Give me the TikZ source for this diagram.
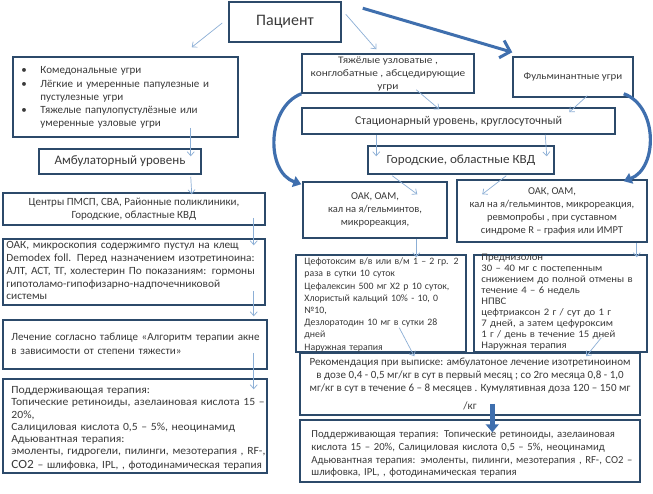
\documentclass[tikz,border=0pt]{standalone}
\usepackage{fontspec}
\setmainfont{Carlito}
\usetikzlibrary{arrows.meta,calc}
\definecolor{boxc}{HTML}{2C4A6A}
\definecolor{txtc}{HTML}{3A3A3A}
\definecolor{thinc}{HTML}{8CAFD6}
\definecolor{thickc}{HTML}{3F6FAE}
\newcommand{\fs}[2]{\fontsize{#1}{#2}\selectfont}
\newcommand{\fst}[3]{\fontsize{#1}{#2}\selectfont\addfontfeature{FakeStretch=#3}}
\begin{document}
\begin{tikzpicture}[x=1pt,y=-1pt,
  box/.style={draw=boxc,line width=1.5pt,fill=white,inner sep=0pt,text=txtc,align=center},
  txt/.style={inner sep=0pt,text=txtc,align=left,anchor=base west,text width=400pt},
  thin/.style={draw=thinc,line width=0.7pt,-{Straight Barb[length=4pt,width=7pt]}},
  curv/.style={draw=thickc,line width=3.2pt,-{Triangle[length=8pt,width=11pt]}},
  big/.style={draw=thickc,line width=3pt,-{Straight Barb[length=9pt,width=18pt,line width=3pt]}}]
\useasboundingbox (0,0) rectangle (653,493);
\fill[white] (0,0) rectangle (653,493);

% ---- boxes ----
\node[box,minimum width=112pt,minimum height=40pt,font=\fs{16}{18}] (pat) at (285,22) {Пациент};
\node[box,minimum width=225pt,minimum height=80pt] (list) at (125.5,97) {};
\node[box,minimum width=162pt,minimum height=25pt,font=\fs{13}{14}] (amb) at (120,161.5) {Амбулаторный уровень};
\node[box,minimum width=262pt,minimum height=32pt,font=\fs{11}{13}] (cent) at (134,209) {Центры ПМСП, СВА, Районные поликлиники,\\Городские,  областные КВД};
\node[box,minimum width=262pt,minimum height=66pt] (oaka) at (134,272) {};
\node[box,minimum width=264pt,minimum height=49pt] (lech) at (135,344.5) {};
\node[box,minimum width=264pt,minimum height=94pt] (suppa) at (135,426) {};

\node[box,minimum width=172pt,minimum height=39pt,font=\fst{10}{13}{1.13}] (heavy) at (388,73.5) {Тяжёлые узловатые ,\\конглобатные , абсцедирующие\\угри};
\node[box,minimum width=120pt,minimum height=40pt,font=\fst{10}{12}{1.09}] (fulm) at (573,77) {Фульминантные угри};
\node[box,minimum width=313pt,minimum height=26pt,font=\fs{12}{14}] (stat) at (458.5,121) {Стационарный уровень, круглосуточный};
\node[box,minimum width=186pt,minimum height=28pt,font=\fst{12.5}{13}{1.05}] (gor) at (461,160) {Городские, областные КВД};
\node[box,minimum width=144pt,minimum height=56pt,font=\fs{10.5}{13}] (oakb) at (375,210) {ОАК, ОАМ,\\кал на я/гельминтов,\\микрореакция,};
\node[box,minimum width=190pt,minimum height=62pt,font=\fs{10.5}{13}] (oakc) at (552,211) {ОАК, ОАМ,\\кал на я/гельминтов, микрореакция,\\ревмопробы , при суставном\\синдроме  R – графия или ИМРТ};
\node[box,minimum width=170pt,minimum height=97pt] (cef) at (381,303.5) {};
\node[box,minimum width=173pt,minimum height=97pt] (pred) at (560.5,303.5) {};
\node[box,minimum width=340pt,minimum height=62pt,font=\fs{11}{13}] (rec) at (470,384) {Рекомендация при выписке:  амбулатоное лечение изотретиноином\\в дозе  0,4  - 0,5  мг/кг в сут в первый месяц ; со 2го месяца 0,8 - 1,0\\мг/кг в сут в течение 6 – 8 месяцев . Кумулятивная доза 120 – 150 мг\\[5pt]/кг};
\node[box,minimum width=340pt,minimum height=62pt] (suppb) at (470,451) {};

% ---- texts of left-aligned boxes ----
\node[txt,font=\fs{11}{13.3}] (listt) at ($(list.north west)+(9,17.5)$)
 {\begin{tabular}[t]{@{}p{19pt}@{}l@{}}•&Комедональные угри\\•&Лёгкие и умеренные папулезные и\\&пустулезные угри\\•&Тяжелые папулопустулёзные  или\\&умеренные узловые угри\end{tabular}};
\node[txt,font=\fst{11}{12.75}{1.03}] (oakat) at ($(oaka.north west)+(4,10.5)$)
 {ОАК, микроскопия  содержимго пустул на клещ\\Demodex foll.  Перед назначением изотретиноина:\\АЛТ, АСТ, ТГ, холестерин  По показаниям: гормоны\\гипотоламо-гипофизарно-надпочечниковой\\системы};
\node[txt,font=\fs{11}{14}] (lecht) at ($(lech.north west)+(9,21.5)$)
 {Лечение согласно таблице  «Алгоритм терапии акне\\в зависимости от степени тяжести»};
\node[txt,font=\fst{11}{12.2}{1.06}] (suppat) at ($(suppa.north west)+(9,15.5)$)
 {Поддерживающая терапия:\\Топические ретиноиды, азелаиновая кислота 15 –\\20\%,\\Салициловая  кислота  0,5 – 5\%, неоцинамид\\Адьювантная терапия:\\эмоленты,  гидрогели, пилинги,  мезотерапия , RF-,\\[2pt]{\fontsize{12.5}{13}\selectfont CO2} – {\addfontfeature{FakeStretch=1.02}шлифовка, IPL, , фотодинамическая терапия}};
\node[txt,font=\fs{9.8}{12.2}] (ceft) at ($(cef.north west)+(9,10.5)$)
 {Цефотоксим в/в или в/м  1 – 2 гр. 2\\раза в сутки 10 суток\\Цефалексин 500 мг Х2 р 10 суток,\\Хлористый кальций 10\% - 10, 0\\№10,\\Дезлоратодин 10 мг  в сутки 28\\дней\\Наружная терапия};
\node[txt,font=\fst{10}{11}{1.07}] (predt) at ($(pred.north west)+(8,6.5)$)
 {Преднизолон\\30 – 40  мг  с постепенным\\снижением до полной  отмены  в\\течение 4 – 6 недель\\НПВС\\цефтриаксон 2 г / сут до 1 г\\7 дней, а затем цефуроксим\\1 г / день в течение 15 дней\\Наружная терапия};
\node[txt,font=\fs{10.7}{12.7}] (suppbt) at ($(suppb.north west)+(12,18.5)$)
 {Поддерживающая терапия: Топические ретиноиды, азелаиновая\\кислота 15 – 20\%,  Салициловая  кислота  0,5 – 5\%, неоцинамид\\Адьювантная терапия:   эмоленты,  пилинги, мезотерапия , RF-, CO2 –\\шлифовка, IPL, , фотодинамическая терапия};

% ---- connector end points ----
\coordinate (p1) at ($(pat.west)+(-6,1)$);      \coordinate (l1) at ($(list.north east)+(-47,-9)$);
\coordinate (l2) at ($(list.south east)+(-48,-10)$); \coordinate (m1) at ($(amb.north east)+(-11,8)$);
\coordinate (m2) at ($(amb.south east)+(-11,2)$);  \coordinate (c1) at ($(cent.north east)+(-74,2)$);
\coordinate (c2) at ($(cent.south east)+(-12,-8)$); \coordinate (o1) at ($(oaka.north east)+(-12,7)$);
\coordinate (o2) at ($(oaka.south east)+(-12,-15)$); \coordinate (e1) at ($(lech.north east)+(-14,-3)$);
\coordinate (e2) at ($(lech.south east)+(-14,-17)$); \coordinate (s1) at ($(suppa.north east)+(-14,11)$);
\coordinate (p2) at ($(pat.north east)+(4,13)$);   \coordinate (h1) at ($(heavy.north west)+(75,-4)$);
\coordinate (p3) at ($(pat.north east)+(21,7)$);   \coordinate (f1) at ($(fulm.north west)+(0,-4)$);
\coordinate (h2) at ($(heavy.south west)+(115,-4)$); \coordinate (t1) at ($(stat.north west)+(138,2)$);
\coordinate (f2) at ($(fulm.south west)+(75,-2)$); \coordinate (t2) at ($(stat.north west)+(268,5)$);
\coordinate (t3) at ($(stat.south west)+(75,0)$);  \coordinate (g1) at ($(gor.north west)+(9,11)$);
\coordinate (t4) at ($(stat.south west)+(244,0)$); \coordinate (g2) at ($(gor.north east)+(-8,11)$);
\coordinate (g3) at ($(gor.south west)+(25,1)$);   \coordinate (b1) at ($(oakb.north west)+(115,13)$);
\coordinate (g4) at ($(gor.south west)+(139,1)$);  \coordinate (k1) at ($(oakc.north west)+(26,15)$);
\coordinate (b2) at ($(oakb.south west)+(114,0)$); \coordinate (ce1) at ($(cef.north west)+(121,3)$);
\coordinate (k2) at ($(oakc.south east)+(-11,0)$); \coordinate (pr1) at ($(pred.north east)+(-11,3)$);
\coordinate (ce2) at ($(cef.south west)+(104,-25)$); \coordinate (r1) at ($(rec.north west)+(115,4)$);
\coordinate (pr2) at ($(pred.south west)+(128,-15)$); \coordinate (r2) at ($(rec.north west)+(287,4)$);
\coordinate (r3) at ($(rec.south west)+(193,-12)$); \coordinate (sb1) at ($(suppb.north west)+(193,13)$);
\coordinate (k0) at ($(oakb.north west)+(-1,3)$);
\coordinate (k9) at ($(oakc.north east)+(-24,2)$);

% ---- connectors ----
\draw[thin] (p1) -- (l1);
\draw[thin] (l2) -- (m1);
\draw[thin] (m2) -- (c1);
\draw[thin] (c2) -- (o1);
\draw[thin] (o2) -- (e1);
\draw[thin] (e2) -- (s1);
\draw[thin] (p2) -- (h1);
\draw[big] (p3) -- (f1);
\draw[thin] (h2) -- (t1);
\draw[thin] (f2) -- (t2);
\draw[thin] (t3) -- (g1);
\draw[thin] (t4) -- (g2);
\draw[thin] (g3) -- (b1);
\draw[thin] (g4) -- (k1);
\draw[thin] (b2) -- (ce1);
\draw[thin] (k2) -- (pr1);
\draw[thin] (ce2) -- (r1);
\draw[thin] (pr2) -- (r2);
\draw[curv] (heavy.south west) .. controls (266,108) and (266,172) .. (k0);
\draw[curv] ($(fulm.south east)+(-10,-4)$) .. controls (658,106) and (658,168) .. (k9);
\draw[draw=thickc,line width=5pt,-{Triangle[length=8pt,width=13pt]}] (r3) -- (sb1);
\end{tikzpicture}
\end{document}
